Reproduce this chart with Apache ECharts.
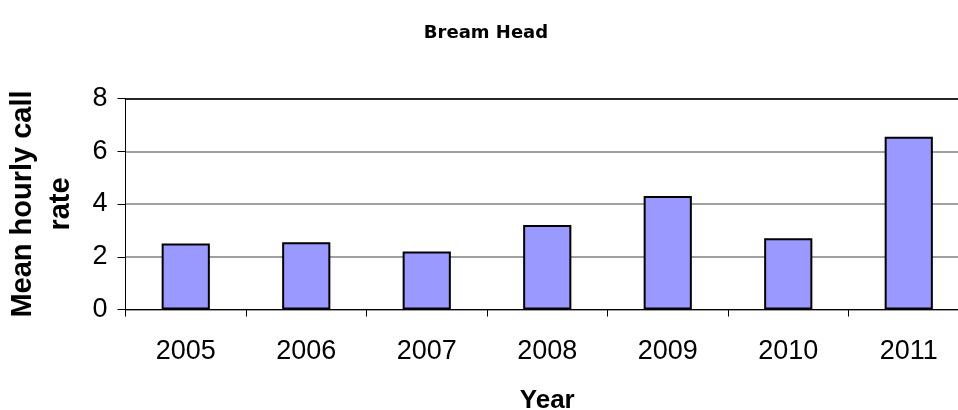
<!DOCTYPE html>
<html><head><meta charset="utf-8">
<script src="https://cdn.jsdelivr.net/npm/echarts@6/dist/echarts.min.js"></script>
<style>html,body{margin:0;padding:0;background:#fff}#c{width:958px;height:410px}</style>
</head><body><div id="c"></div>
<script>
var categories = ['2005','2006','2007','2008','2009','2010','2011'];
var callRate = [2.5, 2.55, 2.2, 3.2, 4.3, 2.7, 6.55];
var yTicks = [0, 2, 4, 6, 8];

var chart = echarts.init(document.getElementById('c'), null, {renderer:'canvas'});
chart.setOption({
  animation: false,
  backgroundColor: '#ffffff',
  title: {
    text: 'Bream Head',
    left: 481, top: 19, textAlign: 'center',
    textStyle: {fontFamily: 'DejaVu Sans', fontWeight: 'bold', fontSize: 18, color: '#000'}
  },
  grid: {left: 125.5, right: -11, top: 98.5, bottom: 100.5, containLabel: false, outerBoundsMode: 'none'},
  xAxis: [{
    type: 'category', data: categories,
    name: 'Year', nameLocation: 'middle', nameGap: 78,
    nameTextStyle: {fontFamily: 'Arial, Liberation Sans', fontWeight: 'bold', fontSize: 26, color: '#000'},
    axisLine: {lineStyle: {color: '#000', width: 1}},
    axisTick: {show: true, alignWithLabel: false, length: 7, inside: false, lineStyle: {color: '#000'}},
    axisLabel: {fontFamily: 'Arial, Liberation Sans', fontSize: 27, color: '#000', margin: 29},
    splitLine: {show: false}
  }, {
    type: 'category', data: categories, position: 'top',
    axisLine: {show: true, lineStyle: {color: '#000', width: 1.5}},
    axisTick: {show: false}, axisLabel: {show: false}, splitLine: {show: false}
  }],
  yAxis: {
    type: 'value', min: 0, max: 8, interval: 2,
    name: 'Mean hourly call\nrate', nameLocation: 'middle', nameGap: 46, nameRotate: 90,
    nameTextStyle: {fontFamily: 'Arial, Liberation Sans', fontWeight: 'bold', fontSize: 29, color: '#000', lineHeight: 38, align: 'center'},
    axisLine: {show: true, lineStyle: {color: '#000', width: 1}},
    axisTick: {show: true, length: 8, lineStyle: {color: '#000'}},
    axisLabel: {fontFamily: 'Arial, Liberation Sans', fontSize: 27, color: '#000', margin: 18,
      formatter: function (v) { return yTicks.indexOf(v) >= 0 ? String(v) : ''; }},
    splitLine: {show: true, lineStyle: {color: '#808080', width: 1.5}}
  },
  series: [{
    type: 'bar', data: callRate, barWidth: '40%', xAxisIndex: 0,
    itemStyle: {color: '#9999FF', borderColor: '#000', borderWidth: 2}
  }]
});
</script></body></html>
